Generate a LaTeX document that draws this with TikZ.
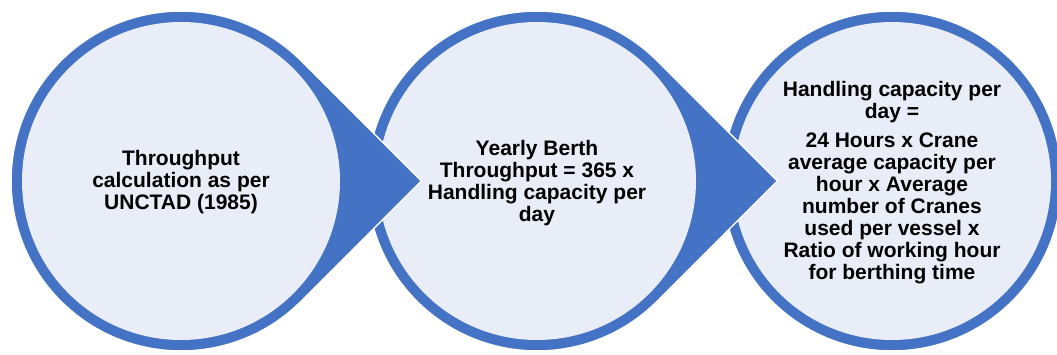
\documentclass[tikz,border=0pt]{standalone}
\usepackage{fontspec}
\setmainfont{Liberation Sans}
\definecolor{ringblue}{HTML}{4472C4}
\definecolor{facefill}{HTML}{E9EDF7}

\begin{document}
\begin{tikzpicture}[x=1pt,y=1pt,
  ringshape/.style={fill=ringblue, draw=white, line width=1.5pt},
  facedisc/.style={fill=facefill},
  steptext/.style={font=\bfseries\fontsize{21}{22}\selectfont, align=center, inner sep=0pt}]
\useasboundingbox (0,0) rectangle (1057,354);
\draw [ringshape] (892,173) circle (170);
\fill [facedisc] (892,173) circle (159);
\draw [ringshape] (537,173) ++(45:170) arc (45:315:170) -- (777.4,173) -- cycle;
\fill [facedisc] (537,173) circle (159);
\draw [ringshape] (181,173) ++(45:170) arc (45:315:170) -- (421.4,173) -- cycle;
\fill [facedisc] (181,173) circle (159);
\node [steptext] (calc) at (181,172) {Throughput\\calculation as per\\UNCTAD (1985)};
\node [steptext] (yearly) at (537,171) {Yearly Berth\\Throughput = 365 x\\Handling capacity per\\day};
\node [steptext] (daily) at (892,171) {Handling capacity per\\day =\\[7pt]24 Hours x Crane\\average capacity per\\hour x Average\\number of Cranes\\used per vessel x\\Ratio of working hour\\for berthing time};
\end{tikzpicture}
\end{document}
